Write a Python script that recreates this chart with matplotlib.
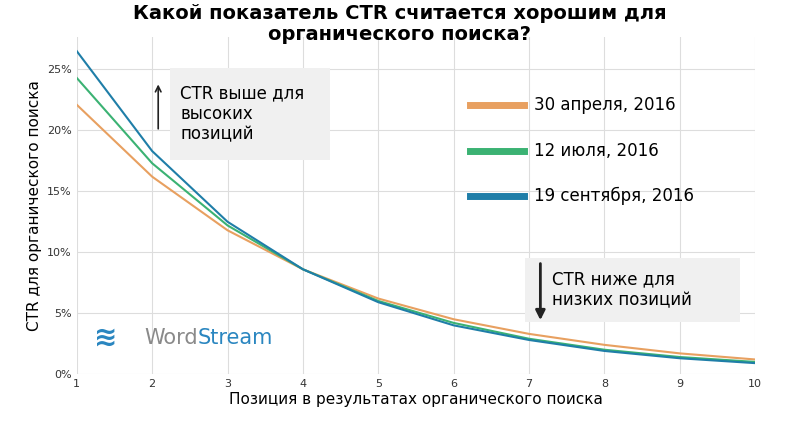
import matplotlib
matplotlib.use("Agg")
import matplotlib.pyplot as plt
from matplotlib.patches import FancyBboxPatch
from matplotlib.text import Annotation

positions = [1, 2, 3, 4, 5, 6, 7, 8, 9, 10]
ctr_apr = [22.1, 16.2, 11.8, 8.6, 6.2, 4.5, 3.3, 2.4, 1.7, 1.2]
ctr_jul = [24.3, 17.3, 12.2, 8.6, 6.0, 4.2, 2.9, 2.0, 1.4, 1.0]
ctr_sep = [26.5, 18.3, 12.5, 8.6, 5.9, 4.0, 2.8, 1.9, 1.3, 0.9]
labels = ["30 апреля, 2016", "12 июля, 2016", "19 сентября, 2016"]
colors = ["#e8a060", "#3bb273", "#1f7ea8"]
yticks = [0, 5, 10, 15, 20, 25]

plt.rcParams["font.family"] = "DejaVu Sans"
fig = plt.figure(figsize=(8, 4.3), dpi=100)
ax = fig.add_axes([0.096, 0.13, 0.848, 0.785])
for s, c in zip([ctr_apr, ctr_jul, ctr_sep], colors):
    ax.plot(positions, s, color=c, lw=1.5)
ax.set_xlim(1, 10)
ax.set_ylim(0, 27.7)
ax.set_xticks(positions)
ax.set_yticks(yticks)
ax.set_yticklabels([f"{v}%" for v in yticks])
ax.tick_params(labelsize=8, length=0, colors="#333333")
ax.grid(True, color="#dddddd", lw=0.8)
for sp in ax.spines.values():
    sp.set_visible(False)
ax.set_xlabel("Позиция в результатах органического поиска", fontsize=11, labelpad=2)
ax.set_ylabel("CTR для органического поиска", fontsize=11)
fig.suptitle("Какой показатель CTR считается хорошим для\nорганического поиска?",
             fontsize=14, fontweight="bold", y=0.99, linespacing=1.1)

# legend
for i, (lab, c) in enumerate(zip(labels, colors)):
    yy = 0.755 - i * 0.105
    fig.add_artist(plt.Line2D([0.587, 0.655], [yy, yy], color=c, lw=5, transform=fig.transFigure))
    fig.text(0.668, yy, lab, fontsize=12, va="center")

# annotation boxes
fig.patches.append(FancyBboxPatch((0.2125, 0.628), 0.2, 0.214, boxstyle="square,pad=0",
                                  fc="#f0f0f0", ec="none", transform=fig.transFigure))
fig.text(0.225, 0.735, "CTR выше для\nвысоких\nпозиций", fontsize=12, va="center", linespacing=1.2)
a1 = Annotation("", xy=(2.08, 24.0), xytext=(2.08, 19.9), xycoords=ax.transData,
                arrowprops=dict(arrowstyle="->", color="#222", lw=1.2))
a1.set_zorder(5)
fig.add_artist(a1)
fig.patches.append(FancyBboxPatch((0.656, 0.251), 0.269, 0.149, boxstyle="square,pad=0",
                                  fc="#f0f0f0", ec="none", transform=fig.transFigure))
fig.text(0.69, 0.325, "CTR ниже для\nнизких позиций", fontsize=12, va="center", linespacing=1.2)
a2 = Annotation("", xy=(7.15, 4.2), xytext=(7.15, 9.3), xycoords=ax.transData,
                arrowprops=dict(arrowstyle="-|>", color="#222", lw=2, mutation_scale=14))
a2.set_zorder(5)
fig.add_artist(a2)

# logo
fig.text(0.118, 0.215, "≋", fontsize=20, color="#2a86c0", va="center", fontweight="bold")
t1 = fig.text(0.18, 0.215, "Word", fontsize=15, color="#8a8a8a", va="center")
fig.canvas.draw()
bb = t1.get_window_extent().transformed(fig.transFigure.inverted())
fig.text(bb.x1, 0.215, "Stream", fontsize=15, color="#2a86c0", va="center")

fig.savefig("out.png", dpi=100)
